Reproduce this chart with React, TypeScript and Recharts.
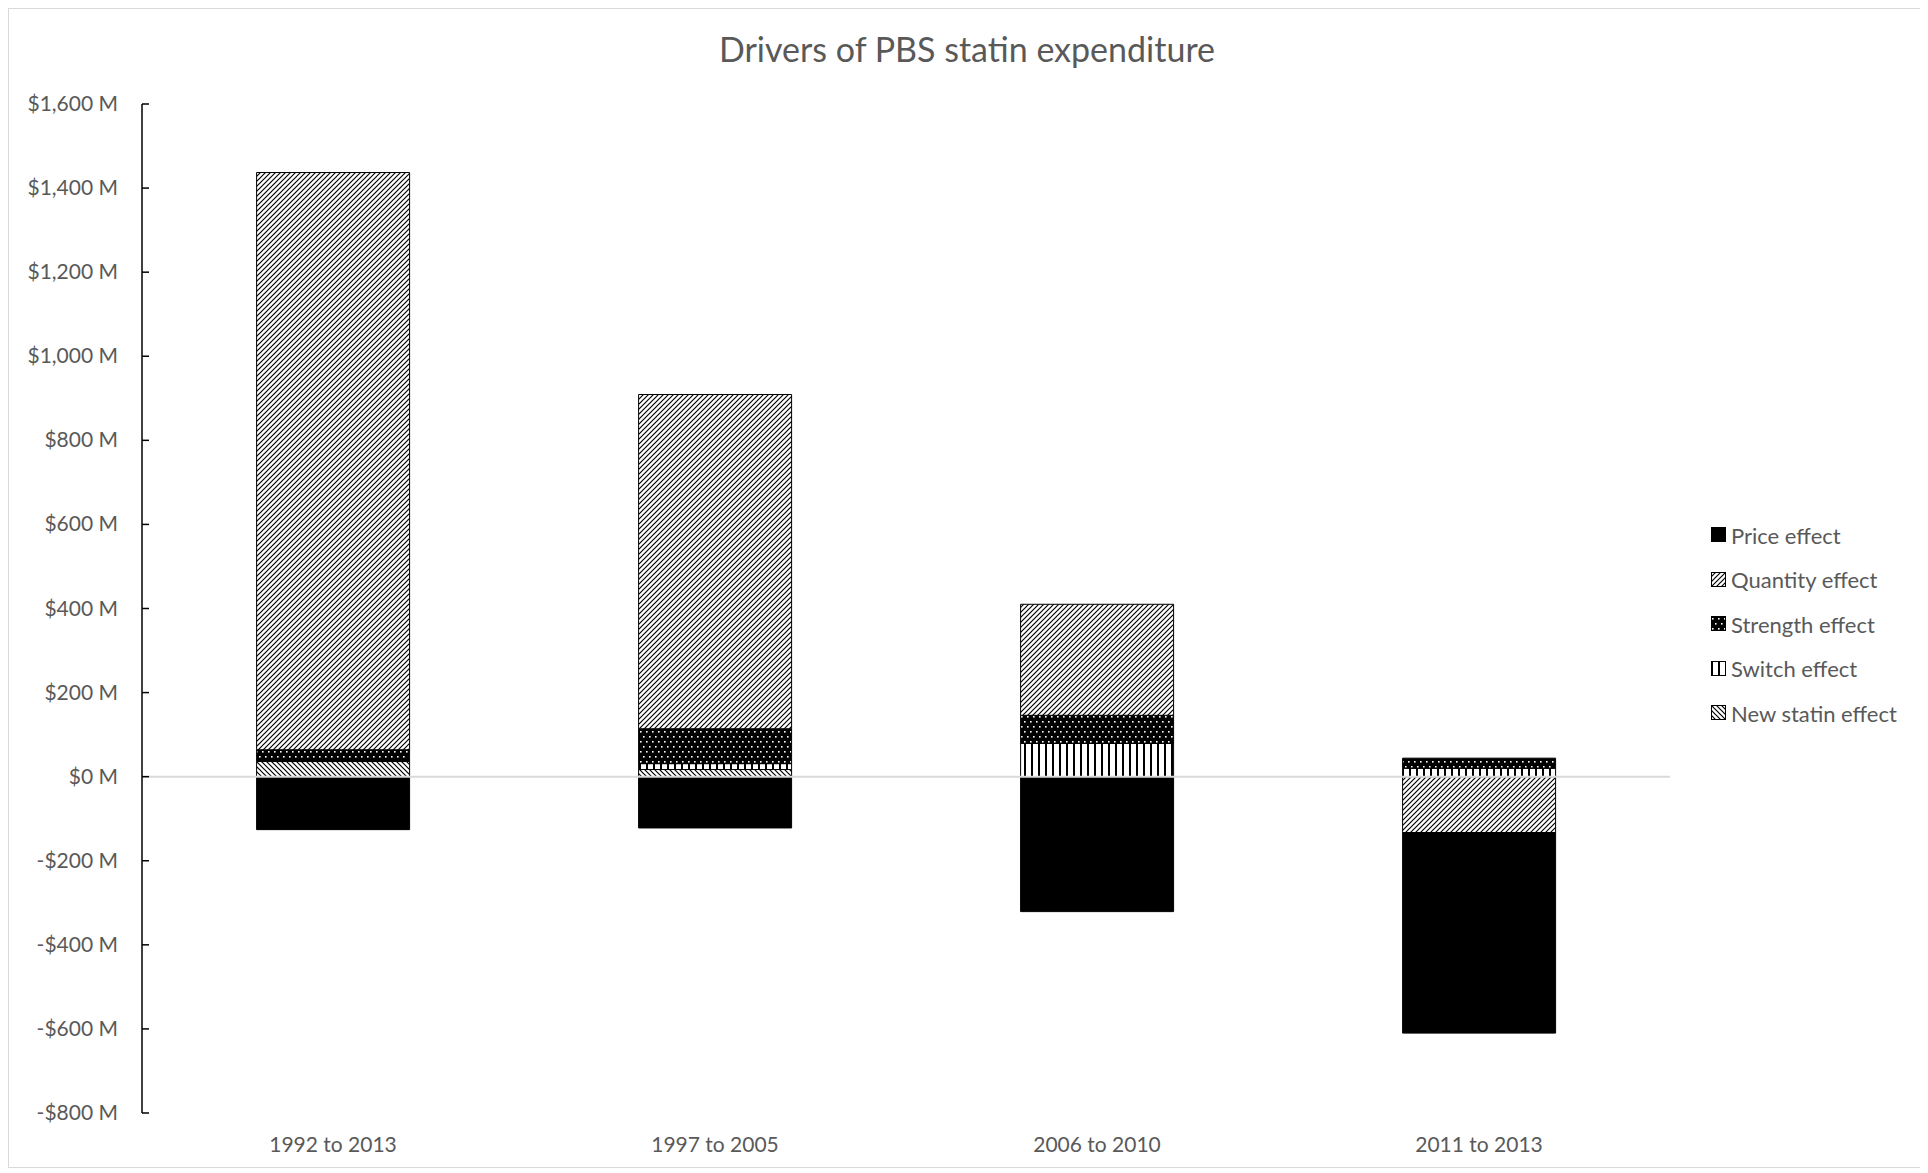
import React from "react";
import {
  BarChart,
  Bar,
  XAxis,
  YAxis,
  ReferenceLine,
  Legend,
} from "recharts";

// periods and the cost drivers ($ M)
const periods = ["1992 to 2013", "1997 to 2005", "2006 to 2010", "2011 to 2013"];
const newStatinEffect = [36, 17, 0, 0];
const switchEffect = [0, 14, 79, 20];
const strengthEffect = [28, 83, 67, 24];
const quantityEffect = [1373, 795, 264, -133];
const priceEffect = [-126, -122, -321, -477];

const yTicks = [-800, -600, -400, -200, 0, 200, 400, 600, 800, 1000, 1200, 1400, 1600];
const legendOrder = ["Price effect", "Quantity effect", "Strength effect", "Switch effect", "New statin effect"];

const data = periods.map((period, i) => ({
  period,
  newStatin: newStatinEffect[i],
  switchEff: switchEffect[i],
  strength: strengthEffect[i],
  quantity: quantityEffect[i],
  price: priceEffect[i],
}));

const FONT = "Lato, 'Open Sans', sans-serif";
const GREY = "#595959";

const fmt = (v: number) =>
  v < 0 ? `-$${Math.abs(v).toLocaleString("en-US")} M` : `$${v.toLocaleString("en-US")} M`;

const YTick = (props: any) => {
  const { x, y, payload } = props;
  return (
    <g>
      <line x1={x + 24} x2={x + 31} y1={y} y2={y} stroke="#000" strokeWidth={1.5} />
      <text x={x} y={y} dy={7} textAnchor="end" fill={GREY} fontSize={21} fontFamily={FONT}>
        {fmt(payload.value)}
      </text>
    </g>
  );
};

const renderLegend = (props: any) => {
  const items = [...(props.payload || [])].sort(
    (a: any, b: any) => legendOrder.indexOf(a.value) - legendOrder.indexOf(b.value)
  );
  return (
    <div style={{ fontFamily: FONT, fontSize: 22, color: GREY }}>
      {items.map((it: any) => (
        <div key={it.value} style={{ height: 44.5, display: "flex", alignItems: "center" }}>
          <svg width={16} height={16} style={{ marginRight: 4 }}>
            <rect x={0.5} y={0.5} width={14} height={14} fill={it.color} stroke="#000" strokeWidth={1} />
          </svg>
          <span>{it.value}</span>
        </div>
      ))}
    </div>
  );
};

export default function App() {
  return (
    <div
      style={{
        width: 1918,
        height: 1160,
        border: "1px solid #d9d9d9",
        boxSizing: "border-box",
        position: "relative",
        background: "#fff",
      }}
    >
      <div
        style={{
          position: "absolute",
          top: 19,
          left: 0,
          width: 1916,
          textAlign: "center",
          fontFamily: FONT,
          fontSize: 34,
          color: GREY,
        }}
      >
        Drivers of PBS statin expenditure
      </div>
      <BarChart
        width={1916}
        height={1158}
        data={data}
        stackOffset="sign"
        barCategoryGap="30%"
        margin={{ top: 95, right: 255, bottom: 0, left: 0 }}
      >
        <defs>
          <pattern id="pQuantity" width={5} height={5} patternUnits="userSpaceOnUse">
            <rect width={5} height={5} fill="#fff" />
            <path d="M0,5 L5,0 M-1,1 L1,-1 M4,6 L6,4" stroke="#000" strokeWidth={1.2} />
          </pattern>
          <pattern id="pNew" width={5} height={5} patternUnits="userSpaceOnUse">
            <rect width={5} height={5} fill="#fff" />
            <path d="M0,0 L5,5 M-1,4 L1,6 M4,-1 L6,1" stroke="#000" strokeWidth={1.2} />
          </pattern>
          <pattern id="pStrength" width={6} height={10} patternUnits="userSpaceOnUse">
            <rect width={6} height={10} fill="#000" />
            <rect x={1} y={2} width={1.6} height={1.6} fill="#fff" />
            <rect x={4} y={7} width={1.6} height={1.6} fill="#fff" />
          </pattern>
          <pattern id="pSwitch" width={7} height={7} patternUnits="userSpaceOnUse">
            <rect width={7} height={7} fill="#fff" />
            <rect x={0} y={0} width={2} height={7} fill="#000" />
          </pattern>
        </defs>
        <XAxis
          dataKey="period"
          axisLine={false}
          tickLine={false}
          tickSize={0}
          tickMargin={24}
          height={54}
          interval={0}
          tick={{ fill: GREY, fontSize: 21, fontFamily: FONT }}
        />
        <YAxis
          domain={[-800, 1600]}
          ticks={yTicks}
          interval={0}
          width={133}
          tickSize={0}
          tickMargin={24}
          tickLine={false}
          axisLine={{ stroke: "#000", strokeWidth: 1.5 }}
          tick={<YTick />}
        />
        <Legend
          layout="horizontal"
          verticalAlign="middle"
          align="center"
          content={renderLegend}
          wrapperStyle={{ left: 1702, top: 504, width: 212 }}
        />
        <Bar dataKey="newStatin" name="New statin effect" stackId="a" fill="url(#pNew)" stroke="#000" strokeWidth={1} isAnimationActive={false} />
        <Bar dataKey="switchEff" name="Switch effect" stackId="a" fill="url(#pSwitch)" stroke="#000" strokeWidth={1} isAnimationActive={false} />
        <Bar dataKey="strength" name="Strength effect" stackId="a" fill="url(#pStrength)" stroke="#000" strokeWidth={1} isAnimationActive={false} />
        <Bar dataKey="quantity" name="Quantity effect" stackId="a" fill="url(#pQuantity)" stroke="#000" strokeWidth={1} isAnimationActive={false} />
        <Bar dataKey="price" name="Price effect" stackId="a" fill="#000" stroke="#000" strokeWidth={1} isAnimationActive={false} />
        <ReferenceLine y={0} stroke="#d9d9d9" strokeWidth={2} />
      </BarChart>
    </div>
  );
}
